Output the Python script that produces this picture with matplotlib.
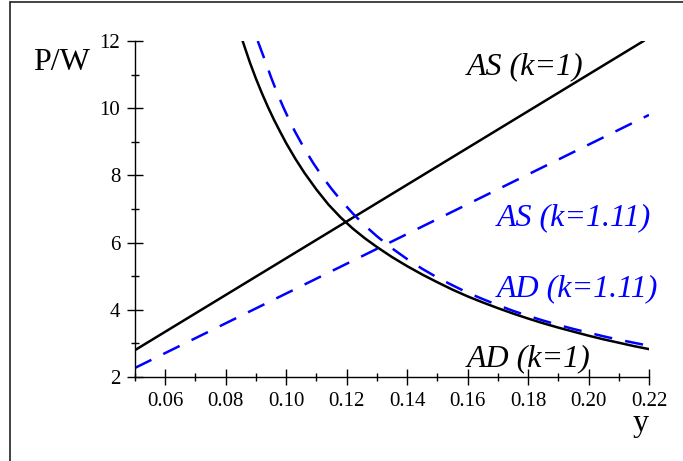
import numpy as np
import matplotlib.pyplot as plt
from matplotlib.patches import Rectangle
from matplotlib.ticker import MultipleLocator

plt.rcParams['font.family'] = ['Liberation Serif', 'DejaVu Serif']

# AS lines (k=1 and k=1.11), end points
as1_x = [0.05, 0.2182]
as1_y = [2.80, 12.0]
as2_x = [0.05, 0.22]
as2_y = [2.27, 9.80]

# AD curve, k=1
ad1_x = [0.0856, 0.088, 0.090, 0.092, 0.094, 0.096, 0.098, 0.100, 0.103, 0.106,
         0.110, 0.114, 0.118, 0.122, 0.126, 0.130, 0.135, 0.140, 0.145, 0.150,
         0.155, 0.160, 0.165, 0.170, 0.175, 0.180, 0.185, 0.190, 0.195, 0.200,
         0.205, 0.210, 0.215, 0.220]
ad1_y = [12.0, 11.36, 10.88, 10.44, 10.03, 9.65, 9.30, 8.96, 8.50, 8.08,
         7.58, 7.13, 6.75, 6.42, 6.13, 5.87, 5.57, 5.30, 5.05, 4.82,
         4.60, 4.40, 4.22, 4.05, 3.89, 3.74, 3.60, 3.47, 3.35, 3.23,
         3.12, 3.02, 2.92, 2.83]

# AD curve, k=1.11
ad2_x = [0.0906, 0.093, 0.095, 0.097, 0.099, 0.101, 0.103, 0.106, 0.109, 0.112,
         0.115, 0.118, 0.122, 0.126, 0.130, 0.135, 0.140, 0.145, 0.150, 0.155,
         0.160, 0.165, 0.170, 0.175, 0.180, 0.185, 0.190, 0.195, 0.200, 0.205,
         0.210, 0.215, 0.220]
ad2_y = [12.0, 11.42, 10.92, 10.46, 10.04, 9.65, 9.29, 8.80, 8.36, 7.96,
         7.60, 7.27, 6.87, 6.51, 6.19, 5.83, 5.51, 5.22, 4.96, 4.73,
         4.51, 4.32, 4.14, 3.97, 3.82, 3.68, 3.55, 3.43, 3.32, 3.21,
         3.11, 3.02, 2.93]

fig = plt.figure(figsize=(6.83, 4.61), dpi=100)
ax = fig.add_axes([135 / 683, 84 / 461, 514 / 683, 336 / 461])

dash = (0, (7.3, 5.3))
ax.plot(as1_x, as1_y, color='black', lw=1.8)
ax.plot(ad1_x, ad1_y, color='black', lw=1.8)
ax.plot(as2_x, as2_y, color='blue', lw=1.8, linestyle=dash)
ax.plot(ad2_x, ad2_y, color='blue', lw=1.8, linestyle=dash)

ax.set_xlim(0.05, 0.22)
ax.set_ylim(2, 12)

ax.spines['top'].set_visible(False)
ax.spines['right'].set_visible(False)
for s in ['left', 'bottom']:
    ax.spines[s].set_linewidth(1.0)

xt = np.arange(0.06, 0.2201, 0.02)
ax.set_xticks(xt)
ax.set_xticklabels(['%.2f' % v for v in xt])
ax.xaxis.set_minor_locator(MultipleLocator(0.01))
ax.set_yticks([2, 4, 6, 8, 10, 12])
ax.yaxis.set_minor_locator(MultipleLocator(1))
ax.tick_params(which='major', direction='inout', length=11, width=1.0,
               labelsize=15, pad=5)
ax.tick_params(which='minor', direction='inout', length=5.5, width=1.0)

lab = dict(fontsize=23, style='italic', ha='left', va='baseline')
ax.text(0.1597, 11.02, 'AS (k=1)', color='black', **lab)
ax.text(0.1696, 6.52, 'AS (k=1.11)', color='blue', **lab)
ax.text(0.1696, 4.39, 'AD (k=1.11)', color='blue', **lab)
ax.text(0.1597, 2.31, 'AD (k=1)', color='black', **lab)

fig.text(33 / 683, 1 - 70 / 461, 'P/W', fontsize=23, ha='left', va='baseline')
fig.text(633 / 683, 1 - 431 / 461, 'y', fontsize=23, ha='left', va='baseline')

# frame round the whole picture
fig.patches.append(Rectangle((10 / 683, -0.1), 1.2, 1 - 2 / 461 + 0.1,
                             transform=fig.transFigure, fill=False,
                             edgecolor='#222222', lw=1.2))

fig.savefig('out.png', dpi=100)
